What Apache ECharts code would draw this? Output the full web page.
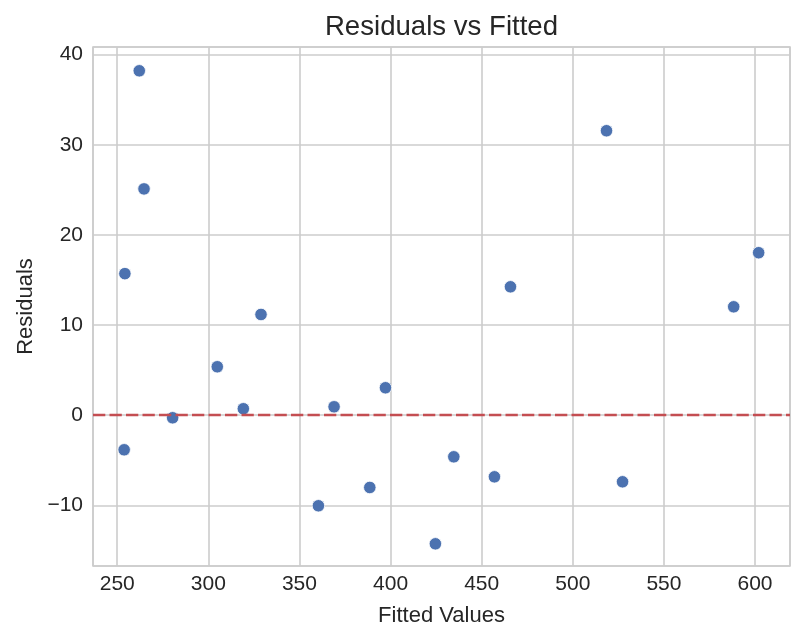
<!DOCTYPE html>
<html>
<head>
<meta charset="utf-8">
<script src="https://cdn.jsdelivr.net/npm/echarts@6/dist/echarts.min.js"></script>
<style>
  html, body { margin: 0; padding: 0; background: #ffffff; }
  #chart { width: 805px; height: 643px; }
</style>
</head>
<body>
<div id="chart"></div>
<script>
// ---- data ----
const fittedValues = [253.8, 254.2, 262.1, 264.7, 280.4, 304.9, 319.2, 328.9, 360.4, 369.0,
                      388.6, 397.2, 424.6, 434.7, 457.0, 465.8, 518.5, 527.3, 588.3, 602.0];
const residuals    = [-3.84, 15.7, 38.2, 25.1, -0.29, 5.37, 0.71, 11.17, -10.05, 0.93,
                      -8.02, 3.04, -14.27, -4.62, -6.84, 14.24, 31.55, -7.39, 12.02, 18.02];
const referenceLineY = 0;
const xRange = [236.7, 619.2];
const yRange = [-16.73, 40.84];

const points = fittedValues.map((x, i) => [x, residuals[i]]);

const FONT = "'Liberation Sans', Arial, sans-serif";
const TEXT = '#262626';
const GRID = '#cccccc';
const fmt = v => String(v).replace('-', '\u2212');

const chart = echarts.init(document.getElementById('chart'), null, { renderer: 'canvas' });
chart.setOption({
  backgroundColor: '#ffffff',
  animation: false,
  title: {
    text: 'Residuals vs Fitted',
    left: 436.5,
    textAlign: 'center',
    top: 8,
    textStyle: { fontFamily: FONT, fontSize: 27.6, fontWeight: 'normal', color: TEXT }
  },
  grid: {
    left: 93, right: 15, top: 47, bottom: 77,
    show: true, borderColor: GRID, borderWidth: 1.6, backgroundColor: 'transparent'
  },
  xAxis: {
    type: 'value',
    min: xRange[0], max: xRange[1],
    splitNumber: 8,
    name: 'Fitted Values',
    nameLocation: 'middle',
    nameGap: 39,
    nameTextStyle: { fontFamily: FONT, fontSize: 22, color: TEXT },
    axisLine: { show: false },
    axisTick: { show: false },
    axisLabel: {
      fontFamily: FONT, fontSize: 21, color: TEXT, margin: 8,
      showMinLabel: false, showMaxLabel: false, formatter: fmt
    },
    splitLine: { show: true, lineStyle: { color: GRID, width: 1.6 } }
  },
  yAxis: {
    type: 'value',
    min: yRange[0], max: yRange[1],
    splitNumber: 6,
    name: 'Residuals',
    nameLocation: 'middle',
    nameRotate: 90,
    nameGap: 55,
    nameTextStyle: { fontFamily: FONT, fontSize: 22, color: TEXT },
    axisLine: { show: false },
    axisTick: { show: false },
    axisLabel: {
      fontFamily: FONT, fontSize: 21, color: TEXT, margin: 10,
      showMinLabel: false, showMaxLabel: false, formatter: fmt
    },
    splitLine: { show: true, lineStyle: { color: GRID, width: 1.6 } }
  },
  series: [
    {
      type: 'scatter',
      z: 1,
      data: [],
      silent: true,
      markLine: {
        silent: true,
        symbol: ['none', 'none'],
        label: { show: false },
        lineStyle: { color: '#c44e52', width: 2.4, type: [12.3, 4.2] },
        data: [{ yAxis: referenceLineY }]
      }
    },
    {
      type: 'scatter',
      z: 3,
      data: points,
      symbol: 'circle',
      symbolSize: 12.5,
      itemStyle: { color: '#4c72b0', borderColor: '#ffffff', borderWidth: 0.8, opacity: 1 }
    }
  ]
});
</script>
</body>
</html>
